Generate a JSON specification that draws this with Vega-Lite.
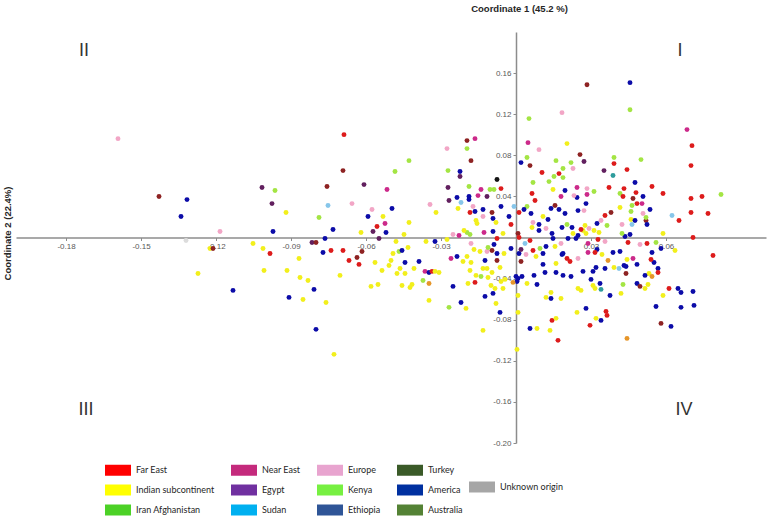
{
  "$schema": "https://vega.github.io/schema/vega-lite/v6.json",
  "width": 750,
  "height": 411,
  "autosize": {"type": "none"},
  "padding": {"left": 16, "top": 32, "right": 7, "bottom": 77},
  "background": "white",
  "config": {"view": {"stroke": null}, "font": "Liberation Sans"},
  "data": {"values": [
    {"x":-0.1592,"y":0.0962,"origin":"Europe"},
    {"x":-0.0688,"y":0.1001,"origin":"Far East"},
    {"x":-0.0692,"y":0.0651,"origin":"Turkey"},
    {"x":-0.1428,"y":0.0399,"origin":"Turkey"},
    {"x":-0.1316,"y":0.0369,"origin":"America"},
    {"x":-0.134,"y":0.0204,"origin":"America"},
    {"x":-0.1184,"y":0.0058,"origin":"Europe"},
    {"x":-0.132,"y":-0.0029,"origin":"Unknown origin"},
    {"x":-0.1224,"y":-0.0107,"origin":"Indian subcontinent"},
    {"x":-0.1212,"y":-0.0107,"origin":"Turkey"},
    {"x":-0.1272,"y":-0.035,"origin":"Indian subcontinent"},
    {"x":-0.1132,"y":-0.0515,"origin":"America"},
    {"x":-0.1016,"y":0.0486,"origin":"Egypt"},
    {"x":-0.0964,"y":0.0457,"origin":"Kenya"},
    {"x":-0.0976,"y":0.033,"origin":"Egypt"},
    {"x":-0.092,"y":0.0243,"origin":"Indian subcontinent"},
    {"x":-0.0972,"y":0.0058,"origin":"America"},
    {"x":-0.1052,"y":-0.0058,"origin":"Indian subcontinent"},
    {"x":-0.1012,"y":-0.0107,"origin":"Indian subcontinent"},
    {"x":-0.0984,"y":-0.0156,"origin":"Far East"},
    {"x":-0.1008,"y":-0.0321,"origin":"Indian subcontinent"},
    {"x":-0.0916,"y":-0.0321,"origin":"Indian subcontinent"},
    {"x":-0.0868,"y":-0.0204,"origin":"Indian subcontinent"},
    {"x":-0.0864,"y":-0.0389,"origin":"Indian subcontinent"},
    {"x":-0.0908,"y":-0.0583,"origin":"America"},
    {"x":-0.0852,"y":-0.0603,"origin":"Indian subcontinent"},
    {"x":-0.0832,"y":-0.0418,"origin":"Indian subcontinent"},
    {"x":-0.0808,"y":-0.0505,"origin":"America"},
    {"x":-0.076,"y":-0.0632,"origin":"Indian subcontinent"},
    {"x":-0.08,"y":-0.0894,"origin":"America"},
    {"x":-0.0728,"y":-0.1137,"origin":"Indian subcontinent"},
    {"x":-0.0816,"y":-0.0049,"origin":"Egypt"},
    {"x":-0.08,"y":-0.0049,"origin":"Turkey"},
    {"x":-0.0772,"y":-0.0146,"origin":"America"},
    {"x":-0.074,"y":-0.0126,"origin":"Far East"},
    {"x":-0.0764,"y":-0.001,"origin":"America"},
    {"x":-0.0732,"y":0.0078,"origin":"America"},
    {"x":-0.0788,"y":0.0194,"origin":"Kenya"},
    {"x":-0.0756,"y":0.0496,"origin":"Turkey"},
    {"x":-0.0752,"y":0.0311,"origin":"Sudan"},
    {"x":-0.0656,"y":0.033,"origin":"Europe"},
    {"x":-0.0608,"y":0.0515,"origin":"Egypt"},
    {"x":-0.0592,"y":0.0204,"origin":"America"},
    {"x":-0.0576,"y":0.0272,"origin":"Europe"},
    {"x":-0.0556,"y":0.0107,"origin":"Far East"},
    {"x":-0.0572,"y":0.0058,"origin":"Egypt"},
    {"x":-0.0496,"y":0.0282,"origin":"America"},
    {"x":-0.0516,"y":0.0467,"origin":"Near East"},
    {"x":-0.0484,"y":0.0642,"origin":"Kenya"},
    {"x":-0.0532,"y":0.0204,"origin":"Indian subcontinent"},
    {"x":-0.0524,"y":0.0136,"origin":"Near East"},
    {"x":-0.052,"y":0.0049,"origin":"America"},
    {"x":-0.062,"y":0.0049,"origin":"Indian subcontinent"},
    {"x":-0.0548,"y":-0.001,"origin":"Egypt"},
    {"x":-0.0616,"y":-0.0136,"origin":"Turkey"},
    {"x":-0.0692,"y":-0.0126,"origin":"Far East"},
    {"x":-0.0668,"y":-0.0224,"origin":"Far East"},
    {"x":-0.0636,"y":-0.0194,"origin":"Turkey"},
    {"x":-0.0628,"y":-0.0262,"origin":"Far East"},
    {"x":-0.0564,"y":-0.0243,"origin":"Indian subcontinent"},
    {"x":-0.0536,"y":-0.0321,"origin":"Indian subcontinent"},
    {"x":-0.048,"y":-0.0039,"origin":"Indian subcontinent"},
    {"x":-0.0492,"y":-0.0156,"origin":"Indian subcontinent"},
    {"x":-0.05,"y":-0.0224,"origin":"Indian subcontinent"},
    {"x":-0.0508,"y":-0.0272,"origin":"Indian subcontinent"},
    {"x":-0.0476,"y":-0.035,"origin":"Indian subcontinent"},
    {"x":-0.0468,"y":-0.0136,"origin":"Kenya"},
    {"x":-0.0704,"y":-0.0369,"origin":"Indian subcontinent"},
    {"x":-0.058,"y":-0.0476,"origin":"Indian subcontinent"},
    {"x":-0.0552,"y":-0.0457,"origin":"Indian subcontinent"},
    {"x":-0.0428,"y":0.0748,"origin":"Kenya"},
    {"x":-0.0428,"y":0.0146,"origin":"Indian subcontinent"},
    {"x":-0.0448,"y":0.0029,"origin":"Indian subcontinent"},
    {"x":-0.0344,"y":0.0321,"origin":"Europe"},
    {"x":-0.032,"y":0.0243,"origin":"Indian subcontinent"},
    {"x":-0.0276,"y":0.0865,"origin":"Europe"},
    {"x":-0.0272,"y":0.0651,"origin":"Kenya"},
    {"x":-0.0272,"y":0.0486,"origin":"Egypt"},
    {"x":-0.0268,"y":0.036,"origin":"Egypt"},
    {"x":-0.0236,"y":0.0389,"origin":"America"},
    {"x":-0.022,"y":0.034,"origin":"Sudan"},
    {"x":-0.0224,"y":0.0642,"origin":"America"},
    {"x":-0.0224,"y":0.0593,"origin":"Egypt"},
    {"x":-0.0232,"y":0.0282,"origin":"Indian subcontinent"},
    {"x":-0.0196,"y":0.0943,"origin":"Turkey"},
    {"x":-0.0196,"y":0.0865,"origin":"Kenya"},
    {"x":-0.0164,"y":0.0962,"origin":"Near East"},
    {"x":-0.018,"y":0.0748,"origin":"Turkey"},
    {"x":-0.0188,"y":0.0496,"origin":"Kenya"},
    {"x":-0.0188,"y":0.0399,"origin":"America"},
    {"x":-0.0188,"y":0.0369,"origin":"America"},
    {"x":-0.0184,"y":0.0243,"origin":"Far East"},
    {"x":-0.0164,"y":0.0253,"origin":"America"},
    {"x":-0.014,"y":0.0467,"origin":"Near East"},
    {"x":-0.0152,"y":0.0408,"origin":"Near East"},
    {"x":-0.0116,"y":0.0399,"origin":"Egypt"},
    {"x":-0.0172,"y":0.0301,"origin":"Europe"},
    {"x":-0.016,"y":0.0165,"origin":"Indian subcontinent"},
    {"x":-0.0156,"y":0.0136,"origin":"Indian subcontinent"},
    {"x":-0.0132,"y":0.0272,"origin":"America"},
    {"x":-0.0132,"y":0.0204,"origin":"Europe"},
    {"x":-0.0092,"y":0.0185,"origin":"America"},
    {"x":-0.0096,"y":0.0243,"origin":"Turkey"},
    {"x":-0.0092,"y":0.0058,"origin":"America"},
    {"x":-0.0104,"y":0.0467,"origin":"Kenya"},
    {"x":-0.0088,"y":0.0467,"origin":"Kenya"},
    {"x":-0.0076,"y":0.0564,"origin":"Ethiopia"},
    {"x":-0.006,"y":0.0476,"origin":"Far East"},
    {"x":-0.006,"y":0.0301,"origin":"America"},
    {"x":-0.008,"y":0.0146,"origin":"Indian subcontinent"},
    {"x":-0.0028,"y":0.0204,"origin":"America"},
    {"x":-0.002,"y":0.0126,"origin":"Far East"},
    {"x":-0.0008,"y":0.0301,"origin":"Sudan"},
    {"x":-0.0052,"y":0.0039,"origin":"Indian subcontinent"},
    {"x":-0.0128,"y":0.0049,"origin":"Near East"},
    {"x":-0.0228,"y":0.0019,"origin":"Near East"},
    {"x":-0.0252,"y":0.0029,"origin":"Europe"},
    {"x":-0.0196,"y":0.0049,"origin":"Kenya"},
    {"x":-0.0184,"y":0.0029,"origin":"Kenya"},
    {"x":-0.0208,"y":0.0068,"origin":"Indian subcontinent"},
    {"x":-0.0324,"y":-0.0039,"origin":"America"},
    {"x":-0.0276,"y":-0.0019,"origin":"Indian subcontinent"},
    {"x":-0.036,"y":-0.0039,"origin":"Indian subcontinent"},
    {"x":-0.018,"y":-0.0058,"origin":"Europe"},
    {"x":-0.0168,"y":-0.0117,"origin":"Indian subcontinent"},
    {"x":-0.0144,"y":-0.0136,"origin":"Indian subcontinent"},
    {"x":-0.0116,"y":-0.0136,"origin":"Europe"},
    {"x":-0.0112,"y":-0.0097,"origin":"Kenya"},
    {"x":-0.0096,"y":-0.0126,"origin":"Turkey"},
    {"x":-0.0088,"y":-0.0068,"origin":"America"},
    {"x":-0.0076,"y":-0.001,"origin":"Far East"},
    {"x":-0.002,"y":-0.0107,"origin":"America"},
    {"x":-0.0456,"y":-0.0126,"origin":"America"},
    {"x":-0.0432,"y":-0.0097,"origin":"Indian subcontinent"},
    {"x":-0.0444,"y":-0.0243,"origin":"America"},
    {"x":-0.0388,"y":-0.0233,"origin":"America"},
    {"x":-0.026,"y":-0.0204,"origin":"Near East"},
    {"x":-0.0236,"y":-0.0185,"origin":"America"},
    {"x":-0.0212,"y":-0.0233,"origin":"Indian subcontinent"},
    {"x":-0.018,"y":-0.0243,"origin":"Indian subcontinent"},
    {"x":-0.0196,"y":-0.0185,"origin":"Indian subcontinent"},
    {"x":-0.0408,"y":-0.0301,"origin":"Indian subcontinent"},
    {"x":-0.0464,"y":-0.0301,"origin":"Indian subcontinent"},
    {"x":-0.0444,"y":-0.035,"origin":"Indian subcontinent"},
    {"x":-0.0364,"y":-0.033,"origin":"Near East"},
    {"x":-0.0348,"y":-0.034,"origin":"America"},
    {"x":-0.0336,"y":-0.033,"origin":"Far East"},
    {"x":-0.0324,"y":-0.033,"origin":"Indian subcontinent"},
    {"x":-0.0308,"y":-0.034,"origin":"Indian subcontinent"},
    {"x":-0.0184,"y":-0.0321,"origin":"Indian subcontinent"},
    {"x":-0.016,"y":-0.0369,"origin":"Indian subcontinent"},
    {"x":-0.0132,"y":-0.0301,"origin":"Indian subcontinent"},
    {"x":-0.0112,"y":-0.0389,"origin":"Indian subcontinent"},
    {"x":-0.0096,"y":-0.034,"origin":"Indian subcontinent"},
    {"x":-0.014,"y":-0.0379,"origin":"Kenya"},
    {"x":-0.0076,"y":-0.0224,"origin":"Turkey"},
    {"x":-0.0076,"y":-0.0156,"origin":"America"},
    {"x":0.0,"y":-0.0379,"origin":"America"},
    {"x":0.0008,"y":-0.0399,"origin":"America"},
    {"x":0.0024,"y":-0.0379,"origin":"America"},
    {"x":0.0004,"y":-0.0428,"origin":"America"},
    {"x":-0.0012,"y":-0.0437,"origin":"Australia"},
    {"x":-0.006,"y":-0.0428,"origin":"Indian subcontinent"},
    {"x":-0.0044,"y":-0.0408,"origin":"Indian subcontinent"},
    {"x":-0.0372,"y":-0.0418,"origin":"Kenya"},
    {"x":-0.0348,"y":-0.0447,"origin":"Australia"},
    {"x":-0.0416,"y":-0.0457,"origin":"Indian subcontinent"},
    {"x":-0.0424,"y":-0.0486,"origin":"Indian subcontinent"},
    {"x":-0.0456,"y":-0.0467,"origin":"Indian subcontinent"},
    {"x":-0.0252,"y":-0.0476,"origin":"America"},
    {"x":-0.0192,"y":-0.0447,"origin":"Indian subcontinent"},
    {"x":-0.0164,"y":-0.0437,"origin":"Far East"},
    {"x":-0.0124,"y":-0.0573,"origin":"America"},
    {"x":-0.0092,"y":-0.0544,"origin":"America"},
    {"x":-0.01,"y":-0.0467,"origin":"Indian subcontinent"},
    {"x":-0.0084,"y":-0.0496,"origin":"Indian subcontinent"},
    {"x":-0.008,"y":-0.0642,"origin":"Indian subcontinent"},
    {"x":-0.0348,"y":-0.0612,"origin":"Indian subcontinent"},
    {"x":-0.022,"y":-0.0632,"origin":"America"},
    {"x":-0.02,"y":-0.069,"origin":"Indian subcontinent"},
    {"x":-0.0268,"y":-0.068,"origin":"Kenya"},
    {"x":-0.0064,"y":-0.0729,"origin":"America"},
    {"x":0.0008,"y":-0.0729,"origin":"Indian subcontinent"},
    {"x":-0.0132,"y":-0.0904,"origin":"Indian subcontinent"},
    {"x":0.0004,"y":-0.1089,"origin":"Indian subcontinent"},
    {"x":-0.0124,"y":-0.0224,"origin":"America"},
    {"x":-0.0116,"y":-0.0301,"origin":"Indian subcontinent"},
    {"x":-0.0048,"y":-0.0156,"origin":"Indian subcontinent"},
    {"x":-0.0064,"y":-0.0292,"origin":"Indian subcontinent"},
    {"x":-0.0052,"y":-0.0496,"origin":"Indian subcontinent"},
    {"x":0.0456,"y":0.1507,"origin":"America"},
    {"x":0.0284,"y":0.1487,"origin":"Turkey"},
    {"x":0.0456,"y":0.1244,"origin":"Kenya"},
    {"x":0.0184,"y":0.1215,"origin":"Europe"},
    {"x":0.0052,"y":0.1157,"origin":"Kenya"},
    {"x":0.0684,"y":0.105,"origin":"Near East"},
    {"x":0.0048,"y":0.0923,"origin":"Near East"},
    {"x":0.0092,"y":0.0855,"origin":"Europe"},
    {"x":0.0204,"y":0.0914,"origin":"Indian subcontinent"},
    {"x":0.0704,"y":0.0894,"origin":"Far East"},
    {"x":0.0044,"y":0.0778,"origin":"Kenya"},
    {"x":0.002,"y":0.0729,"origin":"America"},
    {"x":0.0056,"y":0.07,"origin":"Turkey"},
    {"x":0.0104,"y":0.0632,"origin":"Far East"},
    {"x":0.016,"y":0.0748,"origin":"Kenya"},
    {"x":0.0256,"y":0.0807,"origin":"Turkey"},
    {"x":0.0272,"y":0.0739,"origin":"Egypt"},
    {"x":0.022,"y":0.0729,"origin":"Kenya"},
    {"x":0.0172,"y":0.0622,"origin":"Far East"},
    {"x":0.0188,"y":0.0671,"origin":"Kenya"},
    {"x":0.0228,"y":0.0671,"origin":"Europe"},
    {"x":0.0352,"y":0.0651,"origin":"Egypt"},
    {"x":0.0392,"y":0.0778,"origin":"Kenya"},
    {"x":0.0392,"y":0.0719,"origin":"Far East"},
    {"x":0.0444,"y":0.0661,"origin":"Far East"},
    {"x":0.05,"y":0.0758,"origin":"Kenya"},
    {"x":0.0388,"y":0.0603,"origin":"Iran Afghanistan"},
    {"x":0.07,"y":0.07,"origin":"Far East"},
    {"x":0.0068,"y":0.0535,"origin":"Kenya"},
    {"x":0.0064,"y":0.0428,"origin":"Far East"},
    {"x":0.0076,"y":0.036,"origin":"Far East"},
    {"x":0.0132,"y":0.0544,"origin":"Kenya"},
    {"x":0.0152,"y":0.0593,"origin":"Kenya"},
    {"x":0.018,"y":0.0399,"origin":"Near East"},
    {"x":0.0196,"y":0.0457,"origin":"America"},
    {"x":0.0244,"y":0.0389,"origin":"America"},
    {"x":0.0244,"y":0.0486,"origin":"Near East"},
    {"x":0.0232,"y":0.0408,"origin":"Europe"},
    {"x":0.0284,"y":0.0476,"origin":"Europe"},
    {"x":0.0284,"y":0.0418,"origin":"Near East"},
    {"x":0.028,"y":0.033,"origin":"America"},
    {"x":0.0372,"y":0.0486,"origin":"Far East"},
    {"x":0.0432,"y":0.0476,"origin":"Far East"},
    {"x":0.048,"y":0.0437,"origin":"Far East"},
    {"x":0.0416,"y":0.0428,"origin":"Kenya"},
    {"x":0.0428,"y":0.0399,"origin":"Far East"},
    {"x":0.0468,"y":0.0379,"origin":"Turkey"},
    {"x":0.0484,"y":0.033,"origin":"Far East"},
    {"x":0.0504,"y":0.033,"origin":"Near East"},
    {"x":0.0476,"y":0.0535,"origin":"America"},
    {"x":0.0544,"y":0.0496,"origin":"Far East"},
    {"x":0.0588,"y":0.0428,"origin":"Far East"},
    {"x":0.0508,"y":0.0399,"origin":"America"},
    {"x":0.0464,"y":0.0311,"origin":"Kenya"},
    {"x":0.07,"y":0.0379,"origin":"Far East"},
    {"x":0.0744,"y":0.0399,"origin":"Far East"},
    {"x":0.07,"y":0.0243,"origin":"Far East"},
    {"x":0.0768,"y":0.0233,"origin":"Far East"},
    {"x":0.082,"y":0.0418,"origin":"Kenya"},
    {"x":0.0624,"y":0.0214,"origin":"Sudan"},
    {"x":0.0652,"y":0.0165,"origin":"Far East"},
    {"x":0.0536,"y":0.0272,"origin":"America"},
    {"x":0.052,"y":0.0165,"origin":"Turkey"},
    {"x":0.0524,"y":0.0126,"origin":"America"},
    {"x":0.052,"y":0.0194,"origin":"Kenya"},
    {"x":0.0588,"y":0.0039,"origin":"Indian subcontinent"},
    {"x":0.0708,"y":0.0,"origin":"Far East"},
    {"x":0.0456,"y":0.0029,"origin":"America"},
    {"x":0.0436,"y":0.001,"origin":"America"},
    {"x":0.0416,"y":0.0292,"origin":"Indian subcontinent"},
    {"x":0.0424,"y":0.0126,"origin":"Europe"},
    {"x":0.0324,"y":0.0136,"origin":"America"},
    {"x":0.0364,"y":0.0117,"origin":"Kenya"},
    {"x":0.0356,"y":0.0214,"origin":"Far East"},
    {"x":0.038,"y":0.0243,"origin":"Turkey"},
    {"x":0.034,"y":0.0165,"origin":"Europe"},
    {"x":0.0172,"y":0.0272,"origin":"America"},
    {"x":0.0196,"y":0.0233,"origin":"America"},
    {"x":0.0248,"y":0.0262,"origin":"America"},
    {"x":0.0272,"y":0.0262,"origin":"Europe"},
    {"x":0.0276,"y":0.0117,"origin":"Indian subcontinent"},
    {"x":0.0268,"y":0.0068,"origin":"Indian subcontinent"},
    {"x":0.028,"y":0.0039,"origin":"Indian subcontinent"},
    {"x":0.0312,"y":0.0068,"origin":"Indian subcontinent"},
    {"x":0.0332,"y":0.0049,"origin":"Indian subcontinent"},
    {"x":0.0292,"y":0.0087,"origin":"Europe"},
    {"x":0.026,"y":0.0078,"origin":"Far East"},
    {"x":0.0204,"y":0.0126,"origin":"Kenya"},
    {"x":0.0224,"y":0.0097,"origin":"America"},
    {"x":0.0248,"y":0.0019,"origin":"America"},
    {"x":0.0228,"y":0.0039,"origin":"Indian subcontinent"},
    {"x":0.0092,"y":0.0126,"origin":"America"},
    {"x":0.0092,"y":0.0068,"origin":"America"},
    {"x":0.0128,"y":0.0175,"origin":"America"},
    {"x":0.0144,"y":0.0039,"origin":"America"},
    {"x":0.0108,"y":0.0204,"origin":"Indian subcontinent"},
    {"x":0.0068,"y":0.0146,"origin":"Europe"},
    {"x":0.0044,"y":0.0301,"origin":"Kenya"},
    {"x":0.006,"y":0.0233,"origin":"America"},
    {"x":0.0064,"y":0.0097,"origin":"Indian subcontinent"},
    {"x":0.0156,"y":0.0311,"origin":"Turkey"},
    {"x":0.0012,"y":0.0243,"origin":"Far East"},
    {"x":0.0032,"y":0.0272,"origin":"America"},
    {"x":0.046,"y":0.0253,"origin":"Kenya"},
    {"x":0.0508,"y":0.0233,"origin":"Europe"},
    {"x":0.046,"y":0.0175,"origin":"Indian subcontinent"},
    {"x":0.0476,"y":0.0165,"origin":"America"},
    {"x":0.0464,"y":0.0126,"origin":"Sudan"},
    {"x":0.0424,"y":0.0039,"origin":"Kenya"},
    {"x":0.0312,"y":0.0447,"origin":"Kenya"},
    {"x":0.0188,"y":0.0583,"origin":"Kenya"},
    {"x":0.012,"y":0.0087,"origin":"Europe"},
    {"x":0.014,"y":0.0282,"origin":"America"},
    {"x":0.0148,"y":0.0467,"origin":"Indian subcontinent"},
    {"x":0.0148,"y":-0.001,"origin":"America"},
    {"x":0.0056,"y":-0.0029,"origin":"Far East"},
    {"x":0.0012,"y":-0.0156,"origin":"America"},
    {"x":0.002,"y":-0.0233,"origin":"Turkey"},
    {"x":0.004,"y":-0.0165,"origin":"Europe"},
    {"x":0.0036,"y":-0.0058,"origin":"Sudan"},
    {"x":0.0068,"y":-0.0126,"origin":"Far East"},
    {"x":0.0056,"y":-0.0885,"origin":"America"},
    {"x":0.0084,"y":-0.0885,"origin":"Indian subcontinent"},
    {"x":0.0072,"y":-0.0369,"origin":"America"},
    {"x":0.0084,"y":-0.0457,"origin":"America"},
    {"x":0.0108,"y":-0.0262,"origin":"America"},
    {"x":0.0116,"y":-0.034,"origin":"America"},
    {"x":0.012,"y":-0.0583,"origin":"Indian subcontinent"},
    {"x":0.014,"y":-0.0593,"origin":"America"},
    {"x":0.0144,"y":-0.0807,"origin":"Far East"},
    {"x":0.016,"y":-0.0787,"origin":"Indian subcontinent"},
    {"x":0.0168,"y":-0.1001,"origin":"Far East"},
    {"x":0.016,"y":-0.034,"origin":"America"},
    {"x":0.0184,"y":-0.0165,"origin":"America"},
    {"x":0.0204,"y":-0.0204,"origin":"Far East"},
    {"x":0.0216,"y":-0.0233,"origin":"Far East"},
    {"x":0.022,"y":-0.0379,"origin":"America"},
    {"x":0.0188,"y":-0.0369,"origin":"America"},
    {"x":0.018,"y":-0.0593,"origin":"Indian subcontinent"},
    {"x":0.0268,"y":-0.033,"origin":"America"},
    {"x":0.028,"y":-0.069,"origin":"America"},
    {"x":0.0244,"y":-0.0729,"origin":"Indian subcontinent"},
    {"x":0.0296,"y":-0.0855,"origin":"Far East"},
    {"x":0.03,"y":-0.0408,"origin":"America"},
    {"x":0.0308,"y":-0.033,"origin":"America"},
    {"x":0.032,"y":-0.0292,"origin":"America"},
    {"x":0.0336,"y":-0.0447,"origin":"America"},
    {"x":0.034,"y":-0.0807,"origin":"America"},
    {"x":0.036,"y":-0.0719,"origin":"Far East"},
    {"x":0.0364,"y":-0.0758,"origin":"Far East"},
    {"x":0.032,"y":-0.0787,"origin":"Indian subcontinent"},
    {"x":0.0376,"y":-0.0564,"origin":"America"},
    {"x":0.0432,"y":-0.0272,"origin":"America"},
    {"x":0.044,"y":-0.035,"origin":"Turkey"},
    {"x":0.0208,"y":-0.001,"origin":"America"},
    {"x":0.0328,"y":-0.0019,"origin":"Far East"},
    {"x":0.0288,"y":-0.0058,"origin":"Near East"},
    {"x":0.0288,"y":-0.0146,"origin":"Near East"},
    {"x":0.0324,"y":-0.0117,"origin":"America"},
    {"x":0.0316,"y":-0.0146,"origin":"Far East"},
    {"x":0.0356,"y":-0.0039,"origin":"Europe"},
    {"x":0.0448,"y":-0.0049,"origin":"Far East"},
    {"x":0.0496,"y":-0.0068,"origin":"Europe"},
    {"x":0.0524,"y":-0.0058,"origin":"Far East"},
    {"x":0.056,"y":-0.0049,"origin":"Kenya"},
    {"x":0.058,"y":-0.0107,"origin":"America"},
    {"x":0.0544,"y":-0.0146,"origin":"America"},
    {"x":0.0636,"y":-0.0126,"origin":"Indian subcontinent"},
    {"x":0.0788,"y":-0.0175,"origin":"Far East"},
    {"x":0.0188,"y":-0.0156,"origin":"America"},
    {"x":0.0248,"y":-0.0204,"origin":"Europe"},
    {"x":0.0356,"y":-0.0301,"origin":"America"},
    {"x":0.0344,"y":-0.0165,"origin":"Indian subcontinent"},
    {"x":0.0368,"y":-0.0224,"origin":"Australia"},
    {"x":0.0388,"y":-0.0146,"origin":"America"},
    {"x":0.0416,"y":-0.0136,"origin":"America"},
    {"x":0.0444,"y":-0.0214,"origin":"Indian subcontinent"},
    {"x":0.0468,"y":-0.0204,"origin":"Near East"},
    {"x":0.044,"y":-0.0282,"origin":"America"},
    {"x":0.0484,"y":-0.0262,"origin":"America"},
    {"x":0.0412,"y":-0.0301,"origin":"Sudan"},
    {"x":0.0552,"y":-0.0243,"origin":"America"},
    {"x":0.054,"y":-0.0214,"origin":"Far East"},
    {"x":0.0532,"y":-0.035,"origin":"Indian subcontinent"},
    {"x":0.0544,"y":-0.0379,"origin":"Australia"},
    {"x":0.0516,"y":-0.0369,"origin":"America"},
    {"x":0.0568,"y":-0.0301,"origin":"America"},
    {"x":0.0568,"y":-0.034,"origin":"Far East"},
    {"x":0.034,"y":-0.0505,"origin":"Iran Afghanistan"},
    {"x":0.0308,"y":-0.0467,"origin":"Indian subcontinent"},
    {"x":0.0316,"y":-0.0496,"origin":"Indian subcontinent"},
    {"x":0.0248,"y":-0.0496,"origin":"Indian subcontinent"},
    {"x":0.026,"y":-0.0515,"origin":"Indian subcontinent"},
    {"x":0.0428,"y":-0.0457,"origin":"Kenya"},
    {"x":0.0484,"y":-0.0447,"origin":"America"},
    {"x":0.0496,"y":-0.0476,"origin":"Turkey"},
    {"x":0.0516,"y":-0.0496,"origin":"Indian subcontinent"},
    {"x":0.0528,"y":-0.0457,"origin":"Indian subcontinent"},
    {"x":0.042,"y":-0.0544,"origin":"Indian subcontinent"},
    {"x":0.0444,"y":-0.0982,"origin":"Australia"},
    {"x":0.056,"y":-0.0671,"origin":"America"},
    {"x":0.0588,"y":-0.0564,"origin":"Indian subcontinent"},
    {"x":0.0612,"y":-0.0496,"origin":"Far East"},
    {"x":0.0648,"y":-0.0496,"origin":"America"},
    {"x":0.066,"y":-0.0535,"origin":"America"},
    {"x":0.0708,"y":-0.0525,"origin":"America"},
    {"x":0.066,"y":-0.068,"origin":"America"},
    {"x":0.0712,"y":-0.0661,"origin":"America"},
    {"x":0.058,"y":-0.0836,"origin":"Turkey"},
    {"x":0.062,"y":-0.0865,"origin":"America"},
    {"x":0.002,"y":-0.0117,"origin":"Egypt"},
    {"x":0.0096,"y":-0.0107,"origin":"Kenya"},
    {"x":0.012,"y":-0.0087,"origin":"America"},
    {"x":0.0008,"y":-0.0564,"origin":"Indian subcontinent"},
    {"x":0.0044,"y":-0.0447,"origin":"Indian subcontinent"},
    {"x":0.0108,"y":-0.0156,"origin":"America"},
    {"x":0.0184,"y":0.0097,"origin":"America"},
    {"x":0.018,"y":-0.0058,"origin":"Europe"},
    {"x":0.024,"y":-0.001,"origin":"America"},
    {"x":0.014,"y":-0.0535,"origin":"Indian subcontinent"},
    {"x":0.0136,"y":-0.0904,"origin":"Indian subcontinent"},
    {"x":0.0008,"y":0.0039,"origin":"Turkey"},
    {"x":0.0012,"y":0.0,"origin":"Far East"},
    {"x":0.008,"y":-0.0185,"origin":"Indian subcontinent"},
    {"x":0.0156,"y":-0.0087,"origin":"Indian subcontinent"},
    {"x":0.016,"y":-0.0253,"origin":"Indian subcontinent"},
    {"x":0.0392,"y":-0.0292,"origin":"Indian subcontinent"}
  ]},
  "encoding": {
    "x": {
      "field": "x", "type": "quantitative",
      "scale": {"domain": [-0.2, 0.1], "nice": false, "zero": false},
      "axis": {
        "title": "Coordinate 1 (45.2 %)", "orient": "bottom", "offset": -205.5,
        "values": [-0.18, -0.15, -0.12, -0.09, -0.06, -0.03, 0.03, 0.06],
        "labelExpr": "replace(format(datum.value, '.2f'), '\u2212', '-')",
        "grid": false, "domainColor": "#8c8c8c", "domainWidth": 1.5,
        "tickColor": "#8c8c8c", "tickSize": 3, "labelFontSize": 8, "labelColor": "#595959",
        "labelPadding": 2, "labelOverlap": false, "labelFlush": false,
        "titleFontSize": 9.5, "titleFontWeight": "bold", "titleColor": "#262626",
        "titleX": 503, "titleY": -229.5, "titleAlign": "center", "titleBaseline": "middle", "titleAnchor": null
      }
    },
    "y": {
      "field": "y", "type": "quantitative",
      "scale": {"domain": [-0.2, 0.2], "nice": false, "zero": false},
      "axis": {
        "title": "Coordinate 2 (22.4%)", "orient": "left", "offset": -500,
        "values": [0.16, 0.12, 0.08, 0.04, -0.04, -0.08, -0.12, -0.16, -0.2],
        "labelExpr": "replace(format(datum.value, '.2f'), '\u2212', '-')",
        "grid": false, "domainColor": "#8c8c8c", "domainWidth": 1.5,
        "tickColor": "#8c8c8c", "tickSize": 3, "labelFontSize": 8, "labelColor": "#595959",
        "labelPadding": 2, "labelOverlap": false, "labelFlush": false,
        "titleFontSize": 9.5, "titleFontWeight": "bold", "titleColor": "#262626",
        "titleX": -509, "titleY": 201, "titleAngle": -90, "titleAlign": "center", "titleBaseline": "middle", "titleAnchor": null
      }
    }
  },
  "layer": [
    {
      "transform": [{"filter": "datum.origin !== 'Unknown origin'"}],
      "mark": {"type": "circle", "size": 0},
      "encoding": {
        "color": {
          "field": "origin", "type": "nominal",
          "scale": {
            "domain": ["Far East", "Indian subcontinent", "Iran Afghanistan", "Near East", "Egypt", "Sudan", "Europe", "Kenya", "Ethiopia", "Turkey", "America", "Australia"],
            "range": ["#ff0000", "#ffff00", "#4cd126", "#c42a7c", "#7030a0", "#00b0f0", "#e8a4cf", "#77f041", "#2f5597", "#3a5a28", "#0030a0", "#548235"]
          },
          "legend": {
            "orient": "none", "legendX": 89, "legendY": 432, "columns": 4, "title": null,
            "symbolType": "M-2.1667,-0.9167H2.1667V0.9167H-2.1667Z", "symbolSize": 144,
            "symbolOffset": 7, "labelOffset": 12, "symbolStrokeWidth": 0, "symbolOpacity": 1,
            "labelFontSize": 9, "labelFont": "Lato", "labelColor": "#262626",
            "rowPadding": 8, "columnPadding": 15, "padding": 0
          }
        }
      }
    },
    {
      "transform": [{"filter": "datum.origin === 'Unknown origin'"}],
      "mark": {"type": "circle", "size": 0},
      "encoding": {
        "color": {
          "field": "origin", "type": "nominal",
          "scale": {"domain": ["Unknown origin"], "range": ["#a6a6a6"]},
          "legend": {
            "orient": "none", "legendX": 453, "legendY": 449, "title": null,
            "symbolType": "M-2.1667,-0.9167H2.1667V0.9167H-2.1667Z", "symbolSize": 144,
            "symbolOffset": 7, "labelOffset": 12, "symbolStrokeWidth": 0, "symbolOpacity": 1,
            "labelFontSize": 9, "labelFont": "Lato", "labelColor": "#262626",
            "padding": 0
          }
        }
      }
    },
    {
      "mark": {"type": "circle", "size": 24, "opacity": 1},
      "encoding": {
        "color": {
          "field": "origin", "type": "nominal",
          "scale": {
            "domain": ["Far East", "Indian subcontinent", "Iran Afghanistan", "Near East", "Egypt", "Sudan", "Europe", "Kenya", "Ethiopia", "Turkey", "America", "Australia", "Unknown origin"],
            "range": ["#dd1c1c", "#f2ef1c", "#2f9c9c", "#cc2a8a", "#62205f", "#86c6ea", "#f2a6c6", "#a4e544", "#141414", "#8e2323", "#0c0ca8", "#e6962a", "#dcdcdc"]
          },
          "legend": null
        }
      }
    },
    {
      "data": {"values": [
        {"x": -0.1728, "y": 0.1818, "quadrant": "II"},
        {"x": 0.0656, "y": 0.1818, "quadrant": "I"},
        {"x": -0.172, "y": -0.1682, "quadrant": "III"},
        {"x": 0.0672, "y": -0.1682, "quadrant": "IV"}
      ]},
      "mark": {"type": "text", "fontSize": 18, "font": "Liberation Sans", "color": "#333333", "align": "center", "baseline": "middle"},
      "encoding": {"text": {"field": "quadrant"}}
    }
  ],
  "resolve": {"scale": {"color": "independent"}, "legend": {"color": "independent"}}
}
